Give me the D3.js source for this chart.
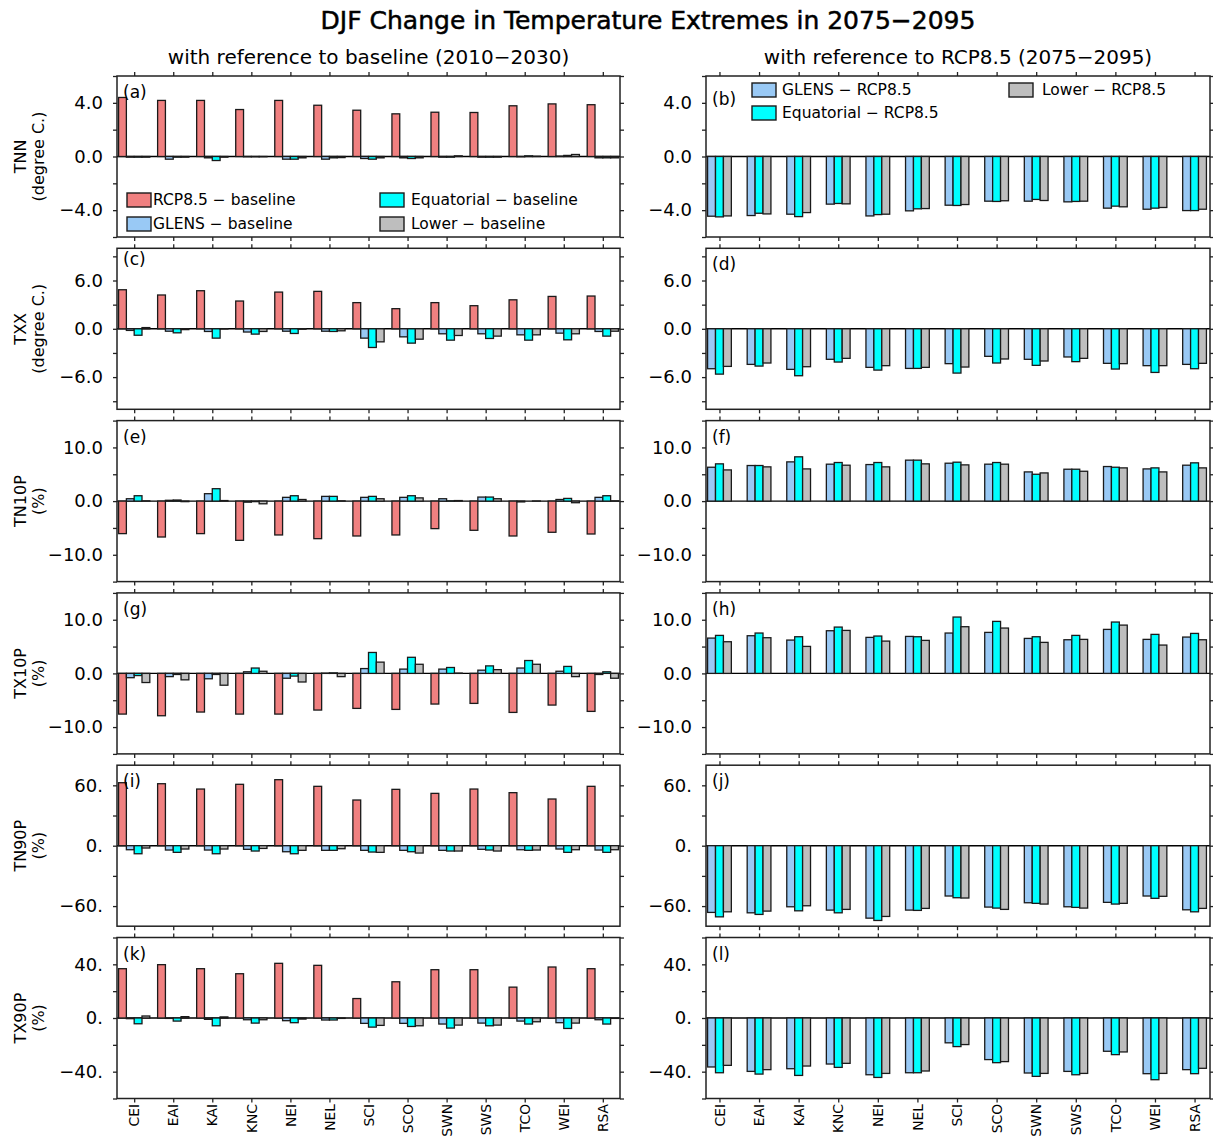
<!DOCTYPE html>
<html>
<head>
<meta charset="utf-8">
<script src="https://cdn.jsdelivr.net/npm/d3@7"></script>
<style>
  body { margin: 0; background: #fff; }
  svg text { font-family: "DejaVu Sans", sans-serif; fill: #000; }
</style>
</head>
<body>
<svg id="chart" width="1213" height="1137"></svg>
<script>
// ---- Regions (x categories) ----
const regions = ["CEI","EAI","KAI","KNC","NEI","NEL","SCI","SCO","SWN","SWS","TCO","WEI","RSA"];

// ---- TNN (degree C.) ----
const tnnRcpBase   = [4.40, 4.18, 4.18, 3.50, 4.18, 3.82, 3.45, 3.18, 3.30, 3.28, 3.78, 3.92, 3.86];
const tnnGlensBase = [-0.05, -0.20, -0.10, -0.02, -0.20, -0.20, -0.15, -0.10, -0.05, -0.05, -0.02, 0.03, -0.10];
const tnnEquBase   = [-0.05, -0.05, -0.30, -0.02, -0.20, -0.10, -0.20, -0.15, -0.05, -0.05, 0.05, 0.08, -0.10];
const tnnLowerBase = [-0.05, -0.05, -0.05, -0.02, -0.10, -0.08, -0.10, -0.10, 0.05, -0.05, 0.02, 0.15, -0.10];
const tnnGlensRcp  = [-4.45, -4.40, -4.30, -3.55, -4.43, -4.05, -3.63, -3.33, -3.33, -3.38, -3.85, -3.93, -4.03];
const tnnEquRcp    = [-4.50, -4.23, -4.48, -3.50, -4.33, -3.90, -3.65, -3.35, -3.20, -3.35, -3.70, -3.85, -4.03];
const tnnLowerRcp  = [-4.43, -4.28, -4.18, -3.53, -4.30, -3.88, -3.58, -3.30, -3.28, -3.33, -3.75, -3.80, -3.93];

// ---- TXX (degree C.) ----
const txxRcpBase   = [4.85, 4.20, 4.73, 3.45, 4.56, 4.65, 3.25, 2.50, 3.25, 2.87, 3.60, 4.02, 4.07];
const txxGlensBase = [-0.20, -0.30, -0.33, -0.40, -0.30, -0.30, -1.16, -1.00, -0.62, -0.62, -0.75, -0.54, -0.33];
const txxEquBase   = [-0.80, -0.50, -1.16, -0.66, -0.58, -0.33, -2.32, -1.78, -1.41, -1.20, -1.41, -1.37, -0.91];
const txxLowerBase = [0.15, -0.10, -0.02, -0.33, -0.05, -0.25, -1.62, -1.29, -0.83, -0.91, -0.75, -0.62, -0.30];
const txxGlensRcp  = [-4.96, -4.42, -5.04, -3.79, -4.79, -4.92, -4.33, -3.42, -3.79, -3.50, -4.29, -4.58, -4.42];
const txxEquRcp    = [-5.63, -4.63, -5.83, -4.13, -5.13, -4.92, -5.50, -4.25, -4.54, -4.08, -5.00, -5.42, -4.96];
const txxLowerRcp  = [-4.67, -4.25, -4.71, -3.67, -4.58, -4.79, -4.75, -3.75, -4.00, -3.67, -4.33, -4.58, -4.29];

// ---- TN10P (%) ----
const tn10pRcpBase   = [-6.06, -6.69, -6.06, -7.31, -6.31, -7.00, -6.50, -6.31, -5.13, -5.44, -6.50, -5.81, -6.13];
const tn10pGlensBase = [0.44, 0.15, 1.38, -0.20, 0.70, 0.88, 0.70, 0.70, 0.44, 0.75, -0.15, 0.30, 0.70];
const tn10pEquBase   = [1.00, 0.20, 2.31, -0.10, 1.00, 0.88, 0.88, 1.00, 0.05, 0.75, 0.00, 0.50, 1.00];
const tn10pLowerBase = [0.05, -0.10, 0.10, -0.50, 0.30, 0.05, 0.44, 0.60, 0.10, 0.44, 0.02, -0.30, 0.05];
const tn10pGlensRcp  = [6.31, 6.63, 7.31, 6.88, 6.81, 7.63, 7.06, 6.88, 5.44, 5.94, 6.44, 6.00, 6.69];
const tn10pEquRcp    = [6.94, 6.63, 8.25, 7.19, 7.19, 7.63, 7.25, 7.19, 5.00, 5.94, 6.31, 6.19, 7.13];
const tn10pLowerRcp  = [5.81, 6.38, 6.00, 6.69, 6.38, 6.94, 6.75, 6.88, 5.25, 5.56, 6.19, 5.44, 6.19];

// ---- TX10P (%) ----
const tx10pRcpBase   = [-7.58, -7.89, -7.20, -7.58, -7.58, -6.83, -6.52, -6.71, -5.71, -5.59, -7.27, -5.90, -7.08];
const tx10pGlensBase = [-0.80, -0.60, -1.00, 0.30, -0.90, 0.05, 0.90, 0.80, 0.80, 0.60, 1.00, 0.40, -0.20];
const tx10pEquBase   = [-0.40, -0.20, -0.20, 1.00, -0.50, 0.10, 3.90, 3.00, 1.10, 1.40, 2.40, 1.30, 0.30];
const tx10pLowerBase = [-1.70, -1.20, -2.20, 0.40, -1.60, -0.60, 2.10, 1.70, 0.05, 0.70, 1.70, -0.60, -0.90];
const tx10pGlensRcp  = [6.58, 7.02, 6.21, 7.95, 6.71, 6.89, 7.52, 7.64, 6.52, 6.27, 8.20, 6.34, 6.77];
const tx10pEquRcp    = [7.08, 7.52, 6.83, 8.63, 6.96, 6.83, 10.50, 9.69, 6.83, 7.08, 9.57, 7.27, 7.45];
const tx10pLowerRcp  = [5.90, 6.65, 5.03, 8.01, 6.02, 6.15, 8.70, 8.45, 5.78, 6.34, 9.00, 5.28, 6.27];

// ---- TN90P (%) ----
const tn90pRcpBase   = [62.6, 61.6, 56.3, 61.0, 65.6, 59.0, 45.4, 56.0, 52.0, 56.3, 52.7, 46.4, 59.0];
const tn90pGlensBase = [-4.0, -4.3, -4.3, -3.6, -6.0, -4.6, -4.6, -4.6, -4.6, -3.6, -4.0, -3.3, -4.3];
const tn90pEquBase   = [-8.0, -6.6, -8.0, -5.3, -8.0, -4.6, -6.3, -6.0, -5.3, -4.3, -4.6, -6.6, -6.6];
const tn90pLowerBase = [-2.3, -3.3, -3.3, -2.7, -4.6, -3.0, -6.6, -7.3, -5.3, -5.3, -4.3, -4.0, -4.0];
const tn90pGlensRcp  = [-66.3, -66.7, -60.7, -64.0, -72.0, -64.0, -50.0, -61.0, -56.7, -60.7, -56.3, -50.0, -63.7];
const tn90pEquRcp    = [-70.7, -68.3, -64.7, -66.7, -74.3, -64.3, -51.7, -62.0, -57.3, -61.3, -58.0, -52.3, -65.7];
const tn90pLowerRcp  = [-65.7, -65.0, -59.7, -63.3, -70.3, -62.3, -52.0, -63.3, -58.0, -62.0, -57.3, -50.3, -62.3];

// ---- TX90P (%) ----
const tx90pRcpBase   = [36.75, 39.75, 36.75, 33.0, 40.75, 39.25, 14.5, 27.0, 36.0, 36.0, 23.0, 38.0, 36.75];
const tx90pGlensBase = [-0.5, -0.3, -1.0, -1.3, -2.0, -1.5, -4.0, -4.0, -4.5, -3.8, -2.3, -3.5, -1.3];
const tx90pEquBase   = [-4.3, -2.3, -5.8, -3.8, -3.5, -1.5, -6.8, -6.3, -7.5, -5.8, -4.5, -7.8, -4.5];
const tx90pLowerBase = [1.5, 1.0, 0.8, -1.3, -0.8, -0.3, -5.5, -5.8, -5.3, -5.3, -2.8, -3.8, -0.3];
const tx90pGlensRcp  = [-36.5, -39.8, -37.8, -34.3, -42.3, -40.8, -18.5, -31.0, -41.0, -39.8, -24.8, -41.5, -38.5];
const tx90pEquRcp    = [-40.8, -41.8, -42.8, -36.8, -44.3, -40.8, -21.3, -33.3, -43.5, -42.3, -27.3, -46.0, -41.5];
const tx90pLowerRcp  = [-35.3, -38.5, -35.8, -33.8, -41.3, -39.5, -19.8, -32.5, -41.3, -41.3, -25.3, -41.3, -37.5];

// ---- Axis ranges and tick labels ----
const tnnRange = [-6, 6],    tnnTicks = [-6,-4,-2,0,2,4,6],          tnnLabelAt = [-4,0,4],     tnnLabels = ["\u22124.0","0.0","4.0"];
const txxRange = [-10, 10],  txxTicks = [-9,-6,-3,0,3,6,9],          txxLabelAt = [-6,0,6],     txxLabels = ["\u22126.0","0.0","6.0"];
const pct10Range = [-15, 15],pct10Ticks = [-15,-10,-5,0,5,10,15],    pct10LabelAt = [-10,0,10], pct10Labels = ["\u221210.0","0.0","10.0"];
const tn90Range = [-80, 80], tn90Ticks = [-60,-30,0,30,60],          tn90LabelAt = [-60,0,60],  tn90Labels = ["\u221260.","0.","60."];
const tx90Range = [-60, 60], tx90Ticks = [-60,-40,-20,0,20,40,60],   tx90LabelAt = [-40,0,40],  tx90Labels = ["\u221240.","0.","40."];

const indexNames = ["TNN","TXX","TN10P","TX10P","TN90P","TX90P"];
const indexUnits = ["(degree C.)","(degree C.)","(%)","(%)","(%)","(%)"];
const baseSeriesNames = ["RCP8.5 \u2212 baseline","GLENS \u2212 baseline","Equatorial \u2212 baseline","Lower \u2212 baseline"];
const refSeriesNames  = ["GLENS \u2212 RCP8.5","Equatorial \u2212 RCP8.5","Lower \u2212 RCP8.5"];
const panelLetters = ["a","b","c","d","e","f","g","h","i","j","k","l"];

const baseColors = ["#F08080","#99C9F5","#00FFFF","#BEBEBE"];
const refColors  = ["#99C9F5","#00FFFF","#BEBEBE"];

const rows = [
  {range: tnnRange, ticks: tnnTicks, labelAt: tnnLabelAt, labels: tnnLabels,
   base: [tnnRcpBase, tnnGlensBase, tnnEquBase, tnnLowerBase], ref: [tnnGlensRcp, tnnEquRcp, tnnLowerRcp]},
  {range: txxRange, ticks: txxTicks, labelAt: txxLabelAt, labels: txxLabels,
   base: [txxRcpBase, txxGlensBase, txxEquBase, txxLowerBase], ref: [txxGlensRcp, txxEquRcp, txxLowerRcp]},
  {range: pct10Range, ticks: pct10Ticks, labelAt: pct10LabelAt, labels: pct10Labels,
   base: [tn10pRcpBase, tn10pGlensBase, tn10pEquBase, tn10pLowerBase], ref: [tn10pGlensRcp, tn10pEquRcp, tn10pLowerRcp]},
  {range: pct10Range, ticks: pct10Ticks, labelAt: pct10LabelAt, labels: pct10Labels,
   base: [tx10pRcpBase, tx10pGlensBase, tx10pEquBase, tx10pLowerBase], ref: [tx10pGlensRcp, tx10pEquRcp, tx10pLowerRcp]},
  {range: tn90Range, ticks: tn90Ticks, labelAt: tn90LabelAt, labels: tn90Labels,
   base: [tn90pRcpBase, tn90pGlensBase, tn90pEquBase, tn90pLowerBase], ref: [tn90pGlensRcp, tn90pEquRcp, tn90pLowerRcp]},
  {range: tx90Range, ticks: tx90Ticks, labelAt: tx90LabelAt, labels: tx90Labels,
   base: [tx90pRcpBase, tx90pGlensBase, tx90pEquBase, tx90pLowerBase], ref: [tx90pGlensRcp, tx90pEquRcp, tx90pLowerRcp]}
];

// ---- Layout ----
const svg = d3.select("#chart");
const colX = [[117, 620], [706, 1210]];
const rowTop0 = 76, rowStep = 172.3, rowH = 161;
const barFrac = 0.2;      // bar width as a fraction of category spacing
const tickLen = 4;

// Column x scales: groups are centred on each region tick
const xLeft  = d3.scaleLinear().domain([-(2 * barFrac) - 0.04, 12 + 2 * barFrac + 0.04]).range(colX[0]);
const xRight = d3.scaleLinear().domain([-(1.5 * barFrac) - 0.04, 12 + 1.5 * barFrac + 0.09]).range(colX[1]);

// Titles
svg.append("text").attr("x", 648).attr("y", 29).attr("text-anchor", "middle")
  .style("font-size", "25px").style("stroke", "#000").style("stroke-width", "0.5px")
  .text("DJF Change in Temperature Extremes in 2075\u22122095");
svg.append("text").attr("x", (colX[0][0] + colX[0][1]) / 2).attr("y", 64).attr("text-anchor", "middle")
  .style("font-size", "20px").text("with reference to baseline (2010\u22122030)");
svg.append("text").attr("x", (colX[1][0] + colX[1][1]) / 2).attr("y", 64).attr("text-anchor", "middle")
  .style("font-size", "20px").text("with reference to RCP8.5 (2075\u22122095)");

function drawPanel(g, x, y, row, seriesList, colors, letter, labelDy, showCats) {
  const [x0, x1] = x.range();
  const [yb, yt] = y.range();
  const step = x(1) - x(0);
  const bw = step * barFrac;
  const n = seriesList.length;

  // zero line
  g.append("line").attr("x1", x0).attr("x2", x1).attr("y1", y(0)).attr("y2", y(0))
    .attr("stroke", "#000").attr("stroke-width", 1.4);

  // bars
  seriesList.forEach((vals, k) => {
    g.append("g").selectAll("rect").data(vals).join("rect")
      .attr("x", (d, i) => x(i) + (k - n / 2) * bw)
      .attr("width", bw)
      .attr("y", d => Math.min(y(d), y(0)))
      .attr("height", d => Math.abs(y(d) - y(0)))
      .attr("fill", colors[k])
      .attr("stroke", "#1a1a1a").attr("stroke-width", 1.3);
  });

  // frame
  g.append("rect").attr("x", x0).attr("y", yt).attr("width", x1 - x0).attr("height", yb - yt)
    .attr("fill", "none").attr("stroke", "#222").attr("stroke-width", 1.5);

  // y ticks on both sides, outward
  const yAxisL = d3.axisLeft(y).tickValues(row.ticks).tickSize(tickLen).tickFormat("");
  const yAxisR = d3.axisRight(y).tickValues(row.ticks).tickSize(tickLen).tickFormat("");
  [g.append("g").attr("transform", `translate(${x0},0)`).call(yAxisL),
   g.append("g").attr("transform", `translate(${x1},0)`).call(yAxisR)].forEach(a => {
    a.select(".domain").remove();
    a.selectAll("line").attr("stroke", "#222").attr("stroke-width", 1.3);
  });

  // y tick labels
  const labelMap = new Map(row.labelAt.map((v, i) => [v, row.labels[i]]));
  const yLab = d3.axisLeft(y).tickValues(row.labelAt).tickSize(0).tickPadding(14)
    .tickFormat(v => labelMap.get(v));
  const yl = g.append("g").attr("transform", `translate(${x0},0)`).call(yLab);
  yl.select(".domain").remove();
  yl.selectAll("text").style("font-size", "18px").style("font-family", "'DejaVu Sans', sans-serif").attr("fill", "#000");

  // category ticks top and bottom, outward
  const cats = d3.range(regions.length);
  const xTop = d3.axisTop(x).tickValues(cats).tickSize(tickLen).tickFormat("");
  const xBot = d3.axisBottom(x).tickValues(cats).tickSize(tickLen).tickFormat("");
  [g.append("g").attr("transform", `translate(0,${yt})`).call(xTop),
   g.append("g").attr("transform", `translate(0,${yb})`).call(xBot)].forEach(a => {
    a.select(".domain").remove();
    a.selectAll("line").attr("stroke", "#222").attr("stroke-width", 1.3);
  });

  if (showCats) {
    g.append("g").selectAll("text").data(regions).join("text")
      .attr("transform", (d, i) => `translate(${x(i) + 5.2},${yb + 5.5}) rotate(-90)`)
      .attr("text-anchor", "end")
      .style("font-size", "13.8px")
      .text(d => d);
  }

  // panel letter
  g.append("text").attr("x", x0 + 6).attr("y", yt + labelDy)
    .style("font-size", "17px").text(`(${letter})`);
}

function legendItem(g, bx, by, color, label, tx) {
  g.append("rect").attr("x", bx).attr("y", by).attr("width", 24).attr("height", 14)
    .attr("fill", color).attr("stroke", "#1a1a1a").attr("stroke-width", 1.4);
  g.append("text").attr("x", tx).attr("y", by + 12).style("font-size", "15.5px").text(label);
}

rows.forEach((row, r) => {
  const top = rowTop0 + r * rowStep;
  const y = d3.scaleLinear().domain(row.range).range([top + rowH, top]);
  const last = r === rows.length - 1;

  const gl = svg.append("g");
  drawPanel(gl, xLeft, y, row, row.base, baseColors, panelLetters[2 * r], r === 1 ? 17 : 22, last);
  const gr = svg.append("g");
  drawPanel(gr, xRight, y, row, row.ref, refColors, panelLetters[2 * r + 1], r === 0 ? 29 : 22, last);

  // index name and unit, rotated
  const cy = top + rowH / 2;
  svg.append("text").attr("transform", `translate(26,${cy}) rotate(-90)`).attr("text-anchor", "middle")
    .style("font-size", "16px").text(indexNames[r]);
  svg.append("text").attr("transform", `translate(44,${cy}) rotate(-90)`).attr("text-anchor", "middle")
    .style("font-size", "16px").text(indexUnits[r]);

  if (r === 0) {
    // legend inside panel (a)
    legendItem(gl, 127, top + 117, baseColors[0], baseSeriesNames[0], 153);
    legendItem(gl, 127, top + 141, baseColors[1], baseSeriesNames[1], 153);
    legendItem(gl, 380, top + 117, baseColors[2], baseSeriesNames[2], 411);
    legendItem(gl, 380, top + 141, baseColors[3], baseSeriesNames[3], 411);
    // legend inside panel (b)
    legendItem(gr, 752, top + 7, refColors[0], refSeriesNames[0], 782);
    legendItem(gr, 752, top + 30, refColors[1], refSeriesNames[1], 782);
    legendItem(gr, 1009, top + 7, refColors[2], refSeriesNames[2], 1042);
  }
});
</script>
</body>
</html>
